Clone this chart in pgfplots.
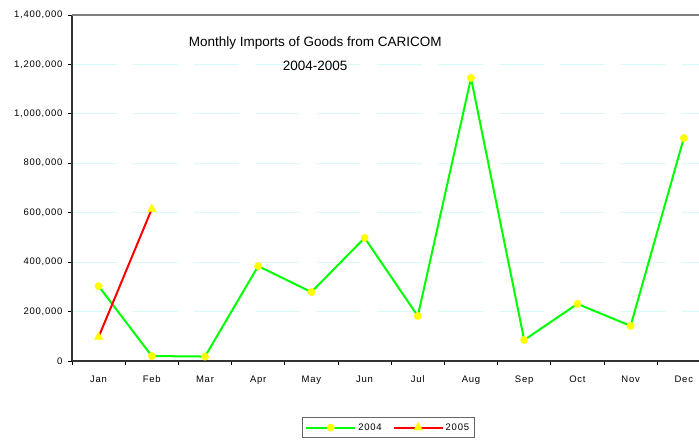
\documentclass[border=0pt]{standalone}
\usepackage{fontspec}
\setmainfont{Liberation Sans}
\newfontfamily\tickfont[LetterSpace=8]{Liberation Sans}
\usepackage{pgfplots}
\pgfplotsset{compat=1.18}

\definecolor{gridcyan}{HTML}{D8FAFA}
\definecolor{linegreen}{HTML}{00FF00}
\definecolor{markyellow}{HTML}{FFFF00}

\begin{document}
\begin{tikzpicture}
\begin{axis}[
    name=ax,
    scale only axis,
    width=638.4pt, height=346pt,
    xmin=-0.5, xmax=11.5,
    ymin=0, ymax=1400000,
    xtick={0,...,11},
    xticklabels={Jan,Feb,Mar,Apr,May,Jun,Jul,Aug,Sep,Oct,Nov,Dec},
    minor xtick={-0.5,0.5,...,11.5},
    major x tick style={draw=none},
    minor tick length=4pt,
    ytick={0,200000,...,1400000},
    major tick length=4pt,
    tick align=outside,
    tick style={black, line width=0.8pt},
    axis lines*=left,
    axis line style={black!80, line width=1.5pt},
    ymajorgrids=true,
    grid style={gridcyan, line width=0.8pt, dash pattern=on 45pt off 16pt},
    scaled y ticks=false,
    /pgf/number format/.cd, fixed, 1000 sep={,}, assume math mode=true,
    /pgfplots/.cd,
    ticklabel style={font=\tickfont\fontsize{9.5}{11}\selectfont},
    xticklabel style={yshift=-7pt},
    yticklabel style={xshift=-2pt},
    legend style={at={(axis description cs:0.4953,-0.162)}, anchor=north,
        legend columns=-1, draw=black!60, line width=0.8pt,
        inner xsep=3pt, inner ysep=4pt,
        font=\tickfont\fontsize{9.5}{11}\selectfont,
        /tikz/every even column/.append style={column sep=9pt}},
    legend image code/.code={%
        \draw[mark repeat=2, mark phase=2, line width=2pt]
            plot coordinates {(0pt,0pt) (24.5pt,0pt) (49pt,0pt)};},
    clip=false,
]
\addplot[linegreen, line width=2pt, mark=*, mark size=3.7pt,
    mark options={fill=markyellow, draw=markyellow, line width=0.4pt}]
    coordinates {
    (0,303000) (1,20000) (2,18000) (3,384000) (4,279000) (5,498000)
    (6,182000) (7,1145000) (8,85000) (9,231000) (10,142000) (11,902000)
};
\addplot[red, line width=2pt, mark=triangle*, mark size=5pt,
    mark options={fill=markyellow, draw=markyellow, line width=0.4pt}]
    coordinates {
    (0,97000) (1,615000)
};
\legend{2004,2005}
\draw[black!50, line width=1.5pt] (rel axis cs:0,1) -- (rel axis cs:1,1);
\node[align=center, font=\fontsize{13.5}{24}\selectfont]
    at (axis description cs:0.381,0.887) {Monthly Imports of Goods from CARICOM\\2004-2005};
\end{axis}
\pgfresetboundingbox
\path[use as bounding box] (-72pt,-80pt) rectangle (627pt,361pt);
\end{tikzpicture}
\end{document}
